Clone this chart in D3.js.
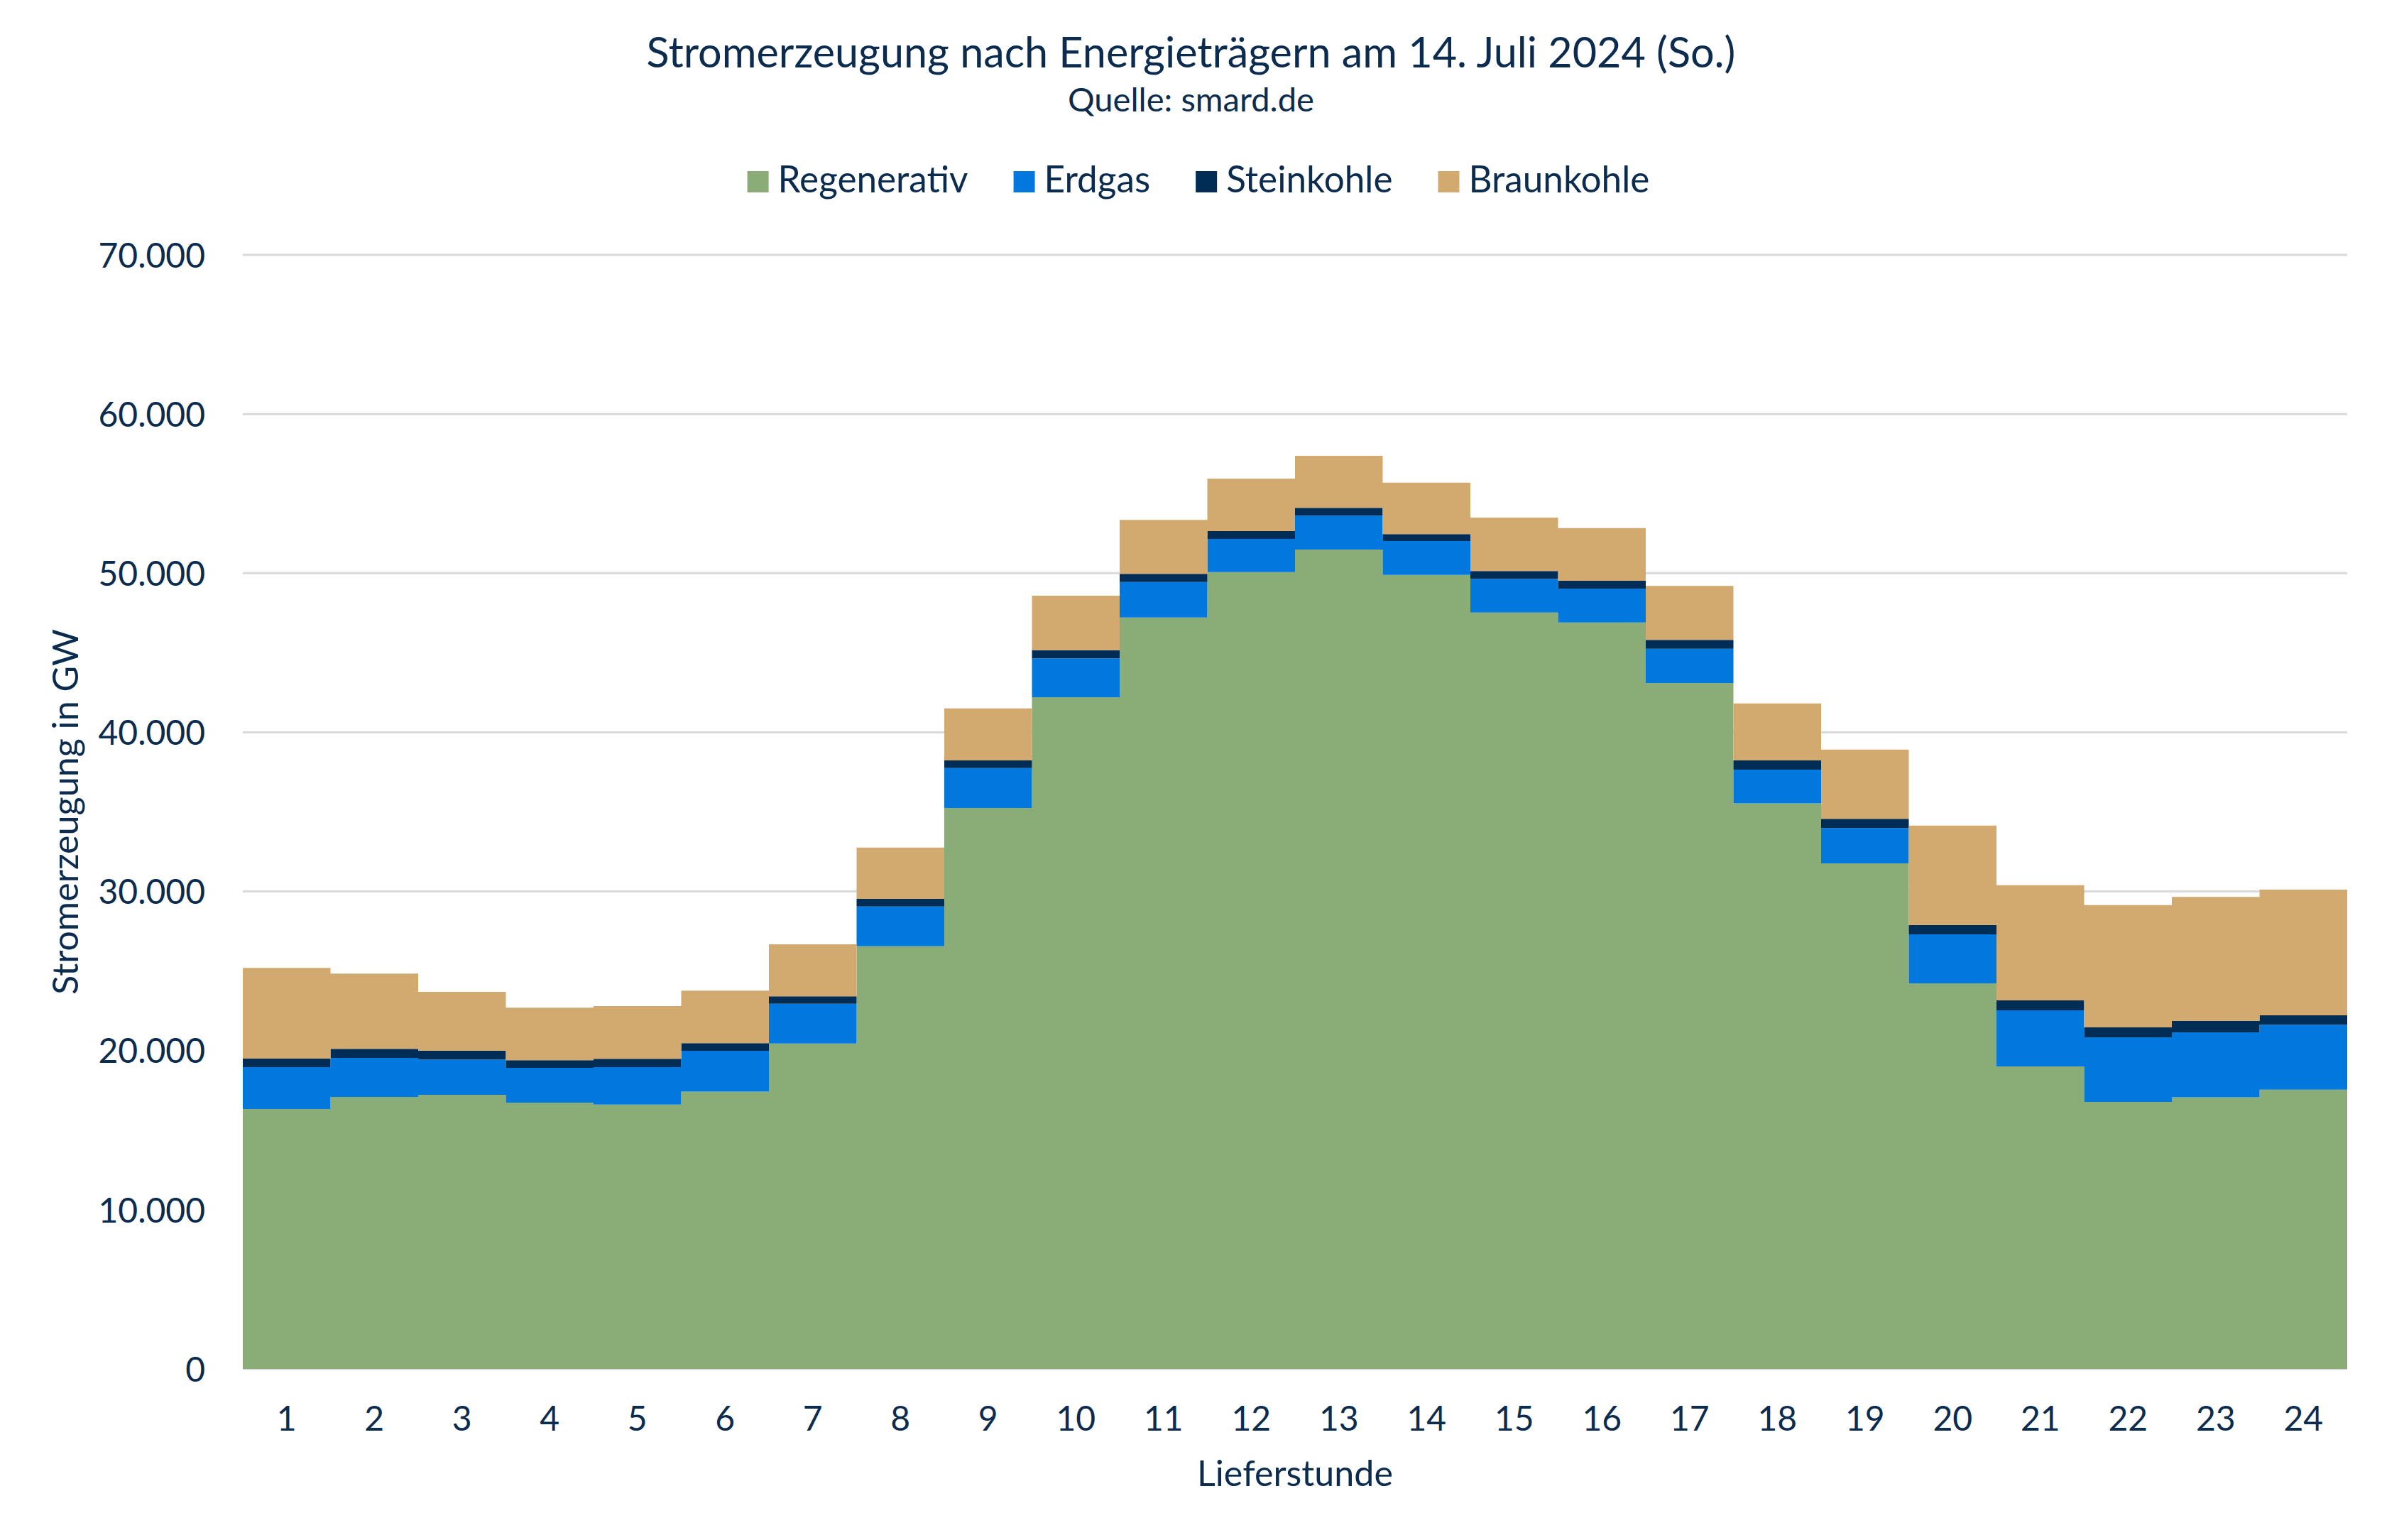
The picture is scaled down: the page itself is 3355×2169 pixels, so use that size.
<!DOCTYPE html>
<html>
<head>
<meta charset="utf-8">
<script src="https://cdn.jsdelivr.net/npm/d3@7"></script>
<style>
html, body { margin: 0; padding: 0; background: #ffffff; }
text { font-family: Lato, "Open Sans", sans-serif; fill: #0b2c4f; }
</style>
</head>
<body>
<svg id="chart" width="3355" height="2169"></svg>
<script>
// ---------------- data ----------------
const hours = [1,2,3,4,5,6,7,8,9,10,11,12,13,14,15,16,17,18,19,20,21,22,23,24];
const seriesNames = ["Regenerativ", "Erdgas", "Steinkohle", "Braunkohle"];
const regenerativ = [16330,17090,17220,16730,16610,17420,20440,26560,35250,42210,47210,50070,51490,49890,47520,46900,43100,35540,31770,24230,19010,16780,17060,17540];
const erdgas      = [2630,2450,2220,2190,2350,2570,2500,2490,2500,2440,2230,2080,2130,2130,2130,2130,2150,2120,2220,3070,3520,4060,4090,4090];
const steinkohle  = [540,570,550,480,530,480,470,490,480,510,520,490,490,440,490,490,560,570,580,590,620,620,720,590];
const braunkohle  = [5700,4730,3700,3300,3310,3300,3270,3220,3270,3420,3390,3300,3260,3230,3350,3310,3390,3580,4340,6250,7240,7680,7790,7890];
const yTicks = [0,10000,20000,30000,40000,50000,60000,70000];
const colors = ["#8aac76", "#0078de", "#002d56", "#d2a96e"];

const titleText = "Stromerzeugung nach Energieträgern am 14. Juli 2024 (So.)";
const subtitleText = "Quelle: smard.de";
const xTitle = "Lieferstunde";
const yTitle = "Stromerzeugung in GW";

// ---------------- layout ----------------
const W = 3355, H = 2169;
const plot = { left: 342, right: 3306, top: 359, bottom: 1928 };

const svg = d3.select("#chart");
svg.append("rect").attr("width", W).attr("height", H).attr("fill", "#ffffff");

// fit a text element to a target width
function fit(sel, target) {
  const w = sel.node().getComputedTextLength();
  const fs = parseFloat(sel.attr("font-size"));
  sel.attr("font-size", fs * target / w);
  return sel;
}

const rows = hours.map((h, i) => ({
  hour: h,
  Regenerativ: regenerativ[i],
  Erdgas: erdgas[i],
  Steinkohle: steinkohle[i],
  Braunkohle: braunkohle[i]
}));

const x = d3.scaleLinear().domain([0, hours.length]).range([plot.left, plot.right]);
const xb = d3.scaleBand().domain(hours).range([plot.left, plot.right]).padding(0);
const y = d3.scaleLinear().domain([0, 70000]).range([plot.bottom, plot.top]);

const de = d3.formatLocale({ decimal: ",", thousands: ".", grouping: [3], currency: ["", " €"] });
const fmt = de.format(",.0f");

// gridlines
svg.append("g")
  .selectAll("line")
  .data(yTicks)
  .join("line")
  .attr("x1", plot.left).attr("x2", plot.right)
  .attr("y1", d => y(d)).attr("y2", d => y(d))
  .attr("stroke", "#d9d9d9").attr("stroke-width", 3);

// stacked step areas
const stacked = d3.stack().keys(seriesNames)(rows);
const area = d3.area()
  .x(d => x(d.t))
  .y0(d => y(d.y0))
  .y1(d => y(d.y1));

svg.append("g")
  .selectAll("path")
  .data(stacked)
  .join("path")
  .attr("fill", (d, i) => colors[i])
  .attr("d", s => area(s.flatMap((d, i) => [
    { t: i, y0: d[0], y1: d[1] },
    { t: i + 1, y0: d[0], y1: d[1] }
  ])));

// y axis
const yAxis = svg.append("g")
  .attr("transform", `translate(${plot.left},0)`)
  .call(d3.axisLeft(y).tickValues(yTicks).tickFormat(d => fmt(d)).tickSize(0).tickPadding(53));
yAxis.select(".domain").remove();
yAxis.selectAll("text")
  .attr("font-size", 48)
  .attr("font-family", "Lato, sans-serif")
  .attr("fill", "#0b2c4f")
  .attr("dy", "0.36em");

// x axis
const xAxis = svg.append("g")
  .attr("transform", `translate(0,${plot.bottom})`)
  .call(d3.axisBottom(xb).tickSize(0).tickPadding(53));
xAxis.select(".domain").remove();
xAxis.selectAll("text")
  .attr("font-size", 48)
  .attr("font-family", "Lato, sans-serif")
  .attr("fill", "#0b2c4f");

// titles
fit(svg.append("text")
  .attr("x", W / 2).attr("y", 95)
  .attr("text-anchor", "middle")
  .attr("font-size", 56)
  .text(titleText), 1534);

fit(svg.append("text")
  .attr("x", W / 2).attr("y", 157)
  .attr("text-anchor", "middle")
  .attr("font-size", 40)
  .text(subtitleText), 347);

fit(svg.append("text")
  .attr("x", (plot.left + plot.right) / 2).attr("y", 2093)
  .attr("text-anchor", "middle")
  .attr("font-size", 50)
  .text(xTitle), 276);

fit(svg.append("text")
  .attr("transform", `translate(110,${(plot.top + plot.bottom) / 2}) rotate(-90)`)
  .attr("text-anchor", "middle")
  .attr("font-size", 50)
  .text(yTitle), 515);

// legend
const legend = svg.append("g");
const items = legend.selectAll("g")
  .data(seriesNames)
  .join("g");
items.append("rect")
  .attr("width", 30).attr("height", 30)
  .attr("fill", (d, i) => colors[i]);
const ltexts = items.append("text")
  .attr("x", 43).attr("y", 30)
  .attr("font-size", 48)
  .text(d => d);
// fit legend font to total text width of the reference
const targetTotal = 267 + 148 + 235 + 257;
let tot = 0;
ltexts.each(function () { tot += this.getComputedTextLength(); });
ltexts.attr("font-size", 48 * targetTotal / tot);
let widths = [];
ltexts.each(function () { widths.push(this.getComputedTextLength()); });
const gap = 64;
const totalW = d3.sum(widths.map(w => 43 + w)) + gap * (widths.length - 1);
let cx = 1688 - totalW / 2;
items.attr("transform", (d, i) => {
  const tx = cx;
  cx += 43 + widths[i] + gap;
  return `translate(${tx},241)`;
});
</script>
</body>
</html>
